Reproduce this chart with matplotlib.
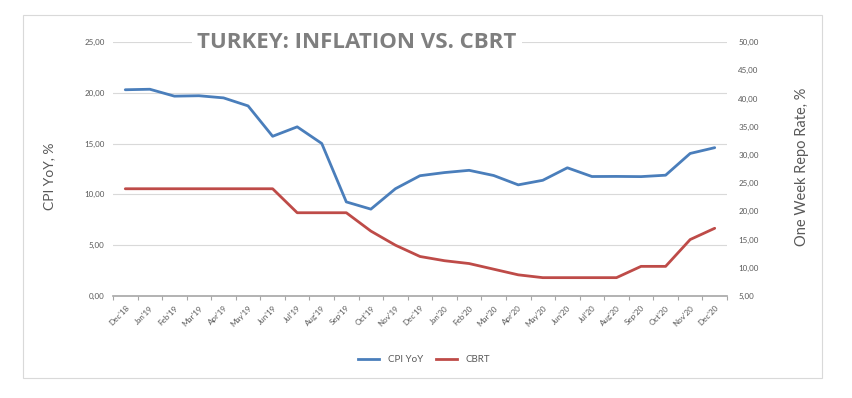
import matplotlib
matplotlib.use("Agg")
import matplotlib.pyplot as plt
from matplotlib.patches import Rectangle
from matplotlib.lines import Line2D
from matplotlib.ticker import FuncFormatter

plt.rcParams['font.family'] = ['Lato', 'DejaVu Sans']

months = ["Dec'18", "Jan'19", "Feb'19", "Mar'19", "Apr'19", "May'19", "Jun'19",
          "Jul'19", "Aug'19", "Sep'19", "Oct'19", "Nov'19", "Dec'19",
          "Jan'20", "Feb'20", "Mar'20", "Apr'20", "May'20", "Jun'20",
          "Jul'20", "Aug'20", "Sep'20", "Oct'20", "Nov'20", "Dec'20"]
cpi_yoy = [20.30, 20.35, 19.67, 19.71, 19.50, 18.71, 15.72, 16.65, 15.01, 9.26,
           8.55, 10.56, 11.84, 12.15, 12.37, 11.86, 10.94, 11.39, 12.62, 11.76,
           11.77, 11.75, 11.89, 14.03, 14.60]
cbrt = [24.00, 24.00, 24.00, 24.00, 24.00, 24.00, 24.00, 19.75, 19.75, 19.75,
        16.50, 14.00, 12.00, 11.25, 10.75, 9.75, 8.75, 8.25, 8.25, 8.25,
        8.25, 10.25, 10.25, 15.00, 17.00]

blue = "#4A7EBB"
red = "#BE4B48"
grey_txt = "#595959"

fig = plt.figure(figsize=(8.52, 3.98), dpi=100)
fig.patches.append(Rectangle((23/852, 1-378/398), (822-23)/852, (378-15)/398,
                             transform=fig.transFigure, fill=False,
                             edgecolor="#D9D9D9", lw=0.8))

ax = fig.add_axes([113/852, 1-296/398, (727-113)/852, (296-42)/398])
ax2 = ax.twinx()

x = list(range(len(months)))
ax.plot(x, cpi_yoy, color=blue, lw=2.0, solid_capstyle='round', zorder=3)
ax2.plot(x, cbrt, color=red, lw=2.0, solid_capstyle='round', zorder=3)

comma = FuncFormatter(lambda v, p: f"{v:.2f}".replace(".", ","))

ax.set_xlim(-0.5, len(months) - 0.5)
ax.set_ylim(0, 25)
ax.set_yticks([0, 5, 10, 15, 20, 25])
ax.yaxis.set_major_formatter(comma)
ax2.set_ylim(5, 50)
ax2.set_yticks(range(5, 51, 5))
ax2.yaxis.set_major_formatter(comma)

for v in [5, 10, 15, 20, 25]:
    ax.axhline(v, color="#D9D9D9", lw=0.8, zorder=0)

ax.set_xticks(x)
ax.set_xticklabels(months, rotation=45, ha='right', rotation_mode='anchor',
                   fontsize=5.8, color=grey_txt)
ax.set_xticks([i - 0.5 for i in range(len(months) + 1)], minor=True)
ax.tick_params(axis='x', which='major', length=0, pad=6)
ax.tick_params(axis='x', which='minor', length=3, color="#A6A6A6", width=0.8)
ax.tick_params(axis='y', length=0, labelsize=5.8, labelcolor=grey_txt, pad=6)
ax2.tick_params(axis='y', length=0, labelsize=5.8, labelcolor=grey_txt, pad=8)

for a in (ax, ax2):
    for s in ['top', 'left', 'right', 'bottom']:
        a.spines[s].set_visible(False)
ax.spines['bottom'].set_visible(True)
ax.spines['bottom'].set_color("#A6A6A6")
ax.spines['bottom'].set_linewidth(1.2)

fig.text(49/852, 1-176/398, "CPI YoY, %", rotation=90, ha='center', va='center',
         fontsize=10, color=grey_txt)
fig.text(802/852, 1-167/398, "One Week Repo Rate, %", rotation=90, ha='center',
         va='center', fontsize=10.5, color=grey_txt)

fig.text(357/852, 1-43/398, "TURKEY: INFLATION VS. CBRT", ha='center', va='center',
         fontsize=16, fontweight='bold', color="#7F7F7F",
         family=['Open Sans', 'DejaVu Sans'],
         bbox=dict(facecolor='white', edgecolor='none', pad=4))

handles = [Line2D([], [], color=blue, lw=2.0), Line2D([], [], color=red, lw=2.0)]
fig.legend(handles, ["CPI YoY", "CBRT"], loc='center', ncol=2,
           bbox_to_anchor=(424/852, 1-360/398), frameon=False, fontsize=7,
           handlelength=2.2, handletextpad=0.9, columnspacing=1.3,
           labelcolor=grey_txt)

fig.savefig("out.png", dpi=100)
